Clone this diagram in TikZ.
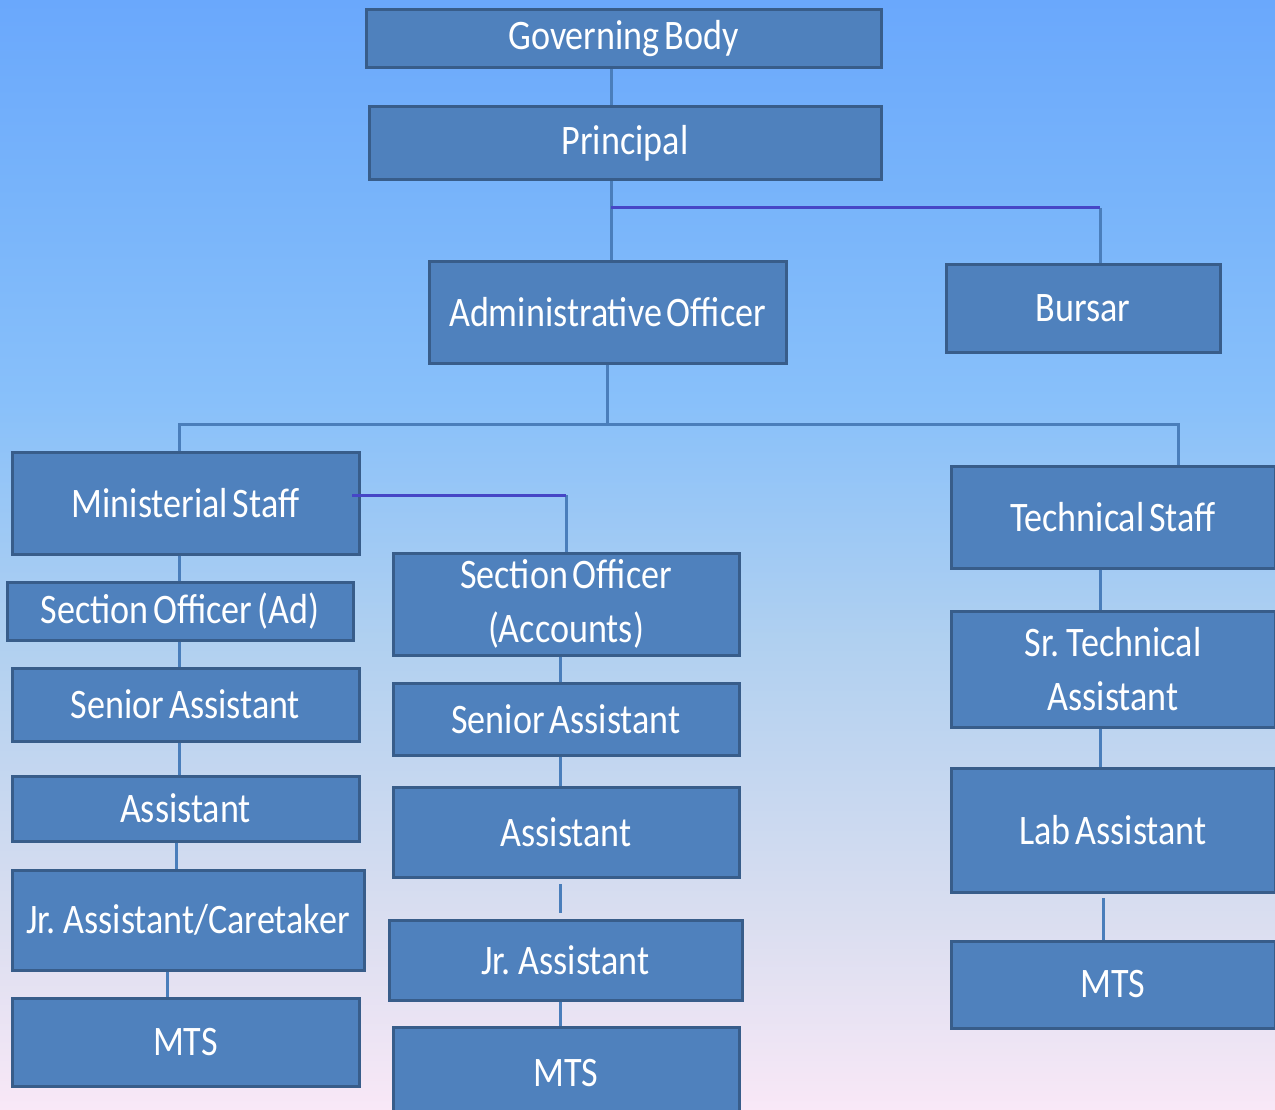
\documentclass[tikz,border=0pt]{standalone}
\usepackage{fontspec}
\setmainfont{Carlito}[FakeStretch=0.86, WordSpace=0.6]
\definecolor{boxfill}{RGB}{79,129,189}
\definecolor{boxline}{RGB}{56,93,138}
\definecolor{connc}{RGB}{74,126,187}
\definecolor{darkc}{RGB}{70,70,198}
\pgfdeclareverticalshading{bgshade}{100bp}{%
  color(0bp)=(rgb,255:red,249;green,232;blue,247);
  color(25bp)=(rgb,255:red,249;green,232;blue,247);
  color(26.8bp)=(rgb,255:red,242;green,230;blue,245);
  color(33.56bp)=(rgb,255:red,218;green,222;blue,240);
  color(46.17bp)=(rgb,255:red,176;green,208;blue,240);
  color(56.98bp)=(rgb,255:red,136;green,192;blue,250);
  color(65.99bp)=(rgb,255:red,120;green,180;blue,250);
  color(75bp)=(rgb,255:red,106;green,168;blue,252);
  color(100bp)=(rgb,255:red,106;green,168;blue,252)}
\tikzset{
  box/.style={draw=boxline, line width=3pt, fill=boxfill, text=white, inner sep=0pt,
    align=center, font=\fontsize{42}{54}\selectfont},
  conn/.style={draw=connc, line width=3pt},
  darkconn/.style={draw=darkc, line width=3pt}
}
\begin{document}
\begin{tikzpicture}[x=1pt,y=-1pt]
\useasboundingbox (0,0) rectangle (1275,1110);
\clip (0,0) rectangle (1275,1110);
\shade[shading=bgshade] (0,0) rectangle (1275,1110);

% nodes
\node[box, minimum width=515pt, minimum height=58pt] (gb) at (623.5,39) {Governing Body};
\node[box, minimum width=512pt, minimum height=73pt] (pr) at (625,143.5) {Principal};
\node[box, minimum width=357pt, minimum height=101pt] (ao) at (607.5,312.5) {Administrative Officer};
\node[box, minimum width=274pt, minimum height=87pt] (bu) at (1083,308.5) {Bursar};

\node[box, minimum width=347pt, minimum height=102pt] (ms) at (185.5,503) {Ministerial Staff};
\node[box, minimum width=346pt, minimum height=58pt] (soad) at (180,611) {Section Officer (Ad)};
\node[box, minimum width=347pt, minimum height=73pt] (sa1) at (185.5,704.5) {Senior Assistant};
\node[box, minimum width=347pt, minimum height=65pt] (as1) at (185.5,808.5) {Assistant};
\node[box, minimum width=352pt, minimum height=100pt] (jr1) at (188,920) {Jr. Assistant/Caretaker};
\node[box, minimum width=347pt, minimum height=88pt] (mts1) at (185.5,1042) {MTS};

\node[box, minimum width=346pt, minimum height=102pt] (soac) at (566,604) {Section Officer\\(Accounts)};
\node[box, minimum width=346pt, minimum height=72pt] (sa2) at (566,719) {Senior Assistant};
\node[box, minimum width=346pt, minimum height=90pt] (as2) at (566,832) {Assistant};
\node[box, minimum width=353pt, minimum height=80pt] (jr2) at (565.5,960) {Jr. Assistant};
\node[box, minimum width=346pt, minimum height=93pt] (mts2) at (566,1073.5) {MTS};

\node[box, minimum width=324pt, minimum height=102pt] (ts) at (1113,517) {Technical Staff};
\node[box, minimum width=324pt, minimum height=116pt] (sta) at (1113,669) {Sr. Technical\\Assistant};
\node[box, minimum width=324pt, minimum height=124pt] (la) at (1113,830) {Lab Assistant};
\node[box, minimum width=324pt, minimum height=87pt] (mts3) at (1113,984.5) {MTS};

% helper coordinates
\coordinate (xa) at (611,0);
\coordinate (xb) at (1100,0);
\coordinate (ya) at (0,208);
\coordinate (xc) at (607,0);
\coordinate (yb) at (0,424);
\coordinate (xl) at (179,0);
\coordinate (xr) at (1178,0);
\coordinate (xm) at (566,0);
\coordinate (yc) at (0,495);
\coordinate (xms) at (352,0);
\coordinate (xl2) at (176,0);
\coordinate (xl3) at (167,0);
\coordinate (xmid) at (560,0);
\coordinate (gap1) at (560,884);
\coordinate (gap2) at (560,913);
\coordinate (xr2) at (1103,0);
\coordinate (gap3) at (1103,898);

% connectors
\draw[conn] (gb.south -| xa) -- (pr.north -| xa);
\draw[conn] (pr.south -| xa) -- (ao.north -| xa);
\draw[conn] (ya -| xb) -- (bu.north -| xb);
\draw[darkconn] (ya -| xa) -- (ya -| xb);

\draw[conn] (ao.south -| xc) -- (yb -| xc);
\draw[conn] (ms.north -| xl) -- (yb -| xl) -- (yb -| xr) -- (ts.north -| xr);

\draw[conn] (yc -| xm) -- (soac.north -| xm);
\draw[darkconn] (yc -| xms) -- (yc -| xm);

\draw[conn] (ms.south -| xl) -- (soad.north -| xl);
\draw[conn] (soad.south -| xl) -- (sa1.north -| xl);
\draw[conn] (sa1.south -| xl) -- (as1.north -| xl);
\draw[conn] (as1.south -| xl2) -- (jr1.north -| xl2);
\draw[conn] (jr1.south -| xl3) -- (mts1.north -| xl3);

\draw[conn] (soac.south -| xmid) -- (sa2.north -| xmid);
\draw[conn] (sa2.south -| xmid) -- (as2.north -| xmid);
\draw[conn] (gap1) -- (gap2);
\draw[conn] (jr2.south -| xmid) -- (mts2.north -| xmid);

\draw[conn] (ts.south -| xb) -- (sta.north -| xb);
\draw[conn] (sta.south -| xb) -- (la.north -| xb);
\draw[conn] (gap3) -- (mts3.north -| xr2);
\end{tikzpicture}
\end{document}
